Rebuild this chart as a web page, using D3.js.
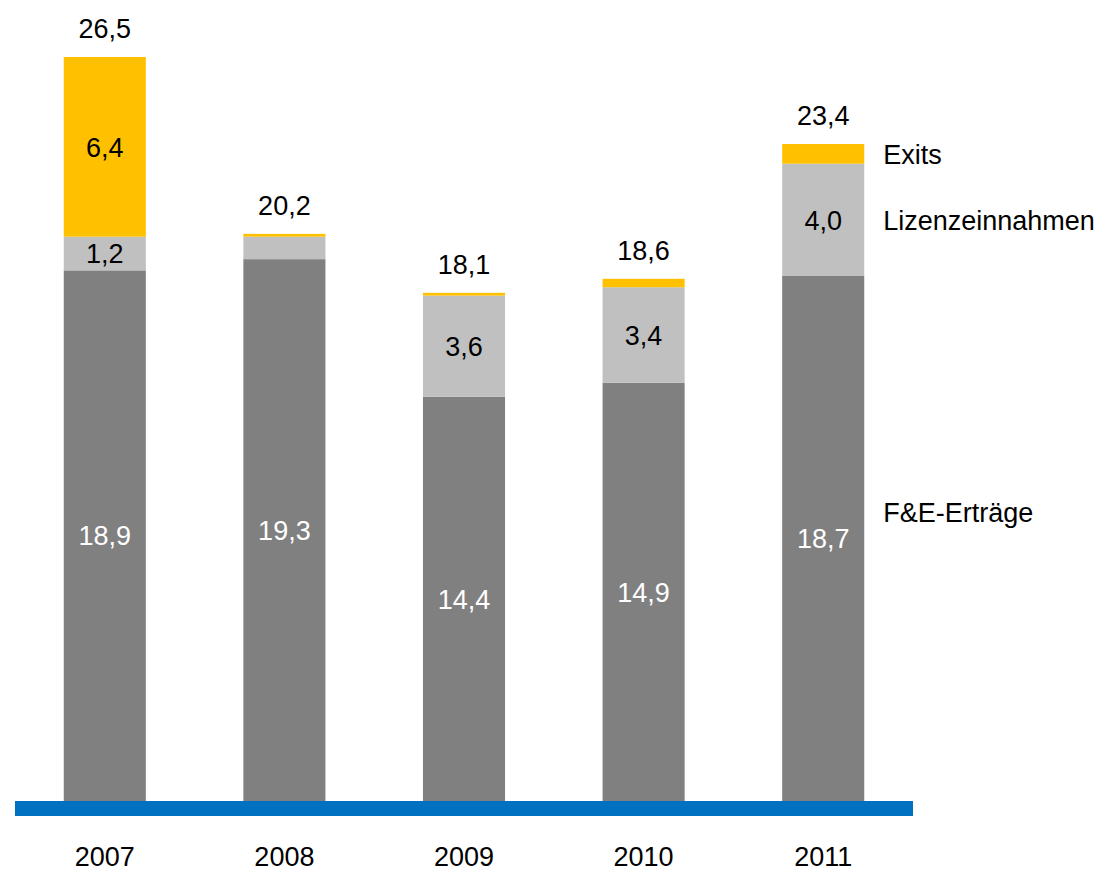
<!DOCTYPE html>
<html>
<head>
<meta charset="utf-8">
<script src="https://cdn.jsdelivr.net/npm/d3@7"></script>
<style>
  body { margin: 0; background: #fff; }
  text { font-family: "Liberation Sans", Arial, sans-serif; }
</style>
</head>
<body>
<div id="chart"></div>
<script>
// data
var years = ["2007", "2008", "2009", "2010", "2011"];
var fue = [18.9, 19.3, 14.4, 14.9, 18.7];          // F&E-Erträge
var lizenz = [1.2, 0.8, 3.6, 3.4, 4.0];            // Lizenzeinnahmen
var exits = [6.4, 0.1, 0.1, 0.3, 0.7];             // Exits
var totals = [26.5, 20.2, 18.1, 18.6, 23.4];
var seriesNames = ["F&E-Erträge", "Lizenzeinnahmen", "Exits"];
var seriesColors = ["#808080", "#C0C0C0", "#FFC000"];
var seriesLabelColors = ["#ffffff", "#000000", "#000000"];

var width = 1117, height = 872;
var fontSize = "27px";

var svg = d3.select("#chart")
  .append("svg")
    .attr("width", width)
    .attr("height", height);

var x = d3.scaleBand()
    .domain(years)
    .range([15, 913])
    .paddingInner(0.543)
    .paddingOuter(0.2715);

var y = d3.scaleLinear()
    .domain([0, 26.5])
    .range([801, 57]);

var table = years.map(function(yr, i) {
  return {year: yr, "F&E-Erträge": fue[i], "Lizenzeinnahmen": lizenz[i], "Exits": exits[i], total: totals[i]};
});

var stack = d3.stack().keys(seriesNames);
var layers = stack(table);

var layerG = svg.selectAll("g.layer")
  .data(layers)
  .enter().append("g")
    .attr("class", "layer")
    .attr("fill", function(d, i) { return seriesColors[i]; });

layerG.selectAll("rect")
  .data(function(d) { return d; })
  .enter().append("rect")
    .attr("x", function(d) { return x(d.data.year); })
    .attr("width", x.bandwidth())
    .attr("y", function(d) { return y(d[1]); })
    .attr("height", function(d) { return y(d[0]) - y(d[1]); });

// segment labels (only for segments big enough)
layers.forEach(function(layer, li) {
  svg.append("g").selectAll("text")
    .data(layer.filter(function(d) { return d[1] - d[0] >= 1; }))
    .enter().append("text")
      .attr("x", function(d) { return x(d.data.year) + x.bandwidth() / 2; })
      .attr("y", function(d) { return y((d[0] + d[1]) / 2); })
      .attr("dy", "0.36em")
      .attr("text-anchor", "middle")
      .style("font-size", fontSize)
      .style("fill", seriesLabelColors[li])
      .text(function(d) { return d3.format(".1f")(d[1] - d[0]).replace(".", ","); });
});

// totals
svg.append("g").selectAll("text")
  .data(table)
  .enter().append("text")
    .attr("x", function(d) { return x(d.year) + x.bandwidth() / 2; })
    .attr("y", function(d) { return y(d.total) - 29; })
    .attr("dy", "0.36em")
    .attr("text-anchor", "middle")
    .style("font-size", fontSize)
    .style("fill", "#000")
    .text(function(d) { return d3.format(".1f")(d.total).replace(".", ","); });

// baseline bar
svg.append("rect")
  .attr("x", x.range()[0])
  .attr("width", x.range()[1] - x.range()[0])
  .attr("y", y(0))
  .attr("height", 15)
  .attr("fill", "#0070C0");

// year labels
var xAxis = svg.append("g")
  .attr("transform", "translate(0," + (y(0) + 15) + ")")
  .call(d3.axisBottom(x).tickSize(0).tickPadding(31));
xAxis.select(".domain").remove();
xAxis.selectAll("text")
  .style("font-size", fontSize)
  .style("font-family", "'Liberation Sans', Arial, sans-serif")
  .attr("fill", "#000");

// legend at the right of the last bar
var last = years.length - 1;
var legendFrac = [0.55, 0.5, 0.5];
layers.forEach(function(layer, li) {
  var d = layer[last];
  svg.append("text")
    .attr("x", x(years[last]) + x.bandwidth() + 19)
    .attr("y", y(d[0] + (d[1] - d[0]) * legendFrac[li]))
    .attr("dy", "0.36em")
    .style("font-size", fontSize)
    .style("fill", "#000")
    .text(seriesNames[li]);
});
</script>
</body>
</html>
